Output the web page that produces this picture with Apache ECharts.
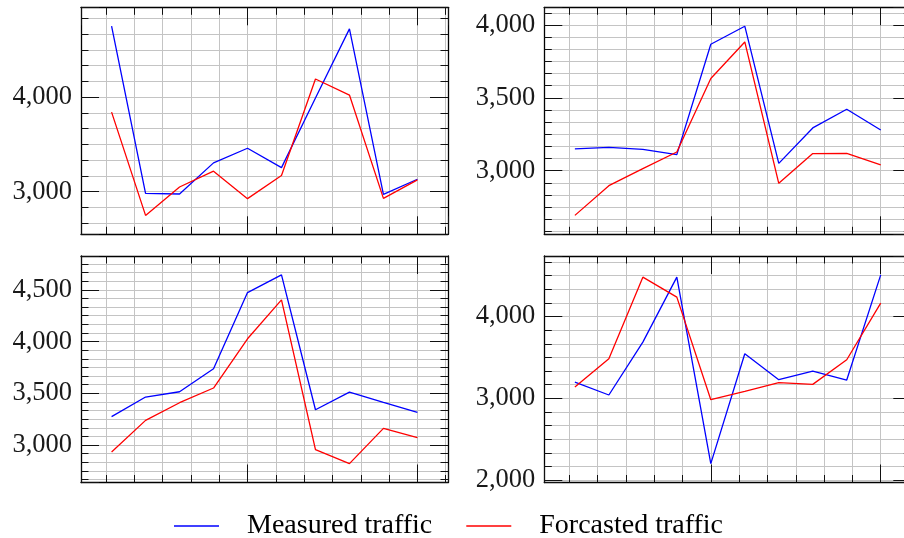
<!DOCTYPE html>
<html><head><meta charset="utf-8">
<script src="https://cdn.jsdelivr.net/npm/echarts@6/dist/echarts.min.js"></script>
<style>html,body{margin:0;padding:0;background:#fff;overflow:hidden;width:904px;height:538px}#c{width:920px;height:538px}</style>
</head><body><div id="c"></div>
<script>
// x positions (sample index)
const xValues = [1, 2, 3, 4, 5, 6, 7, 8, 9, 10];

// Panel 1 (top-left)
const measured1 = [4749, 2982, 2975, 3304, 3459, 3254, 3990, 4721, 2972, 3131];
const forecast1 = [3841, 2749, 3049, 3216, 2926, 3170, 4191, 4021, 2929, 3124];
// Panel 2 (top-right)
const measured2 = [3149, 3160, 3146, 3110, 3867, 3991, 3050, 3293, 3421, 3279];
const forecast2 = [2693, 2897, 3014, 3128, 3632, 3883, 2913, 3117, 3119, 3039];
// Panel 3 (bottom-left)
const measured3 = [3274, 3464, 3515, 3737, 4474, 4645, 3341, 3512, 3412, 3316];
const forecast3 = [2933, 3238, 3409, 3551, 4027, 4403, 2955, 2820, 3161, 3071];
// Panel 4 (bottom-right)
const measured4 = [3199, 3041, 3687, 4480, 2203, 3545, 3228, 3333, 3224, 4508];
const forecast4 = [3138, 3484, 4480, 4236, 2984, 3085, 3191, 3171, 3472, 4163];

// major tick steps on the y axes
const yTickSteps = [1000, 500, 500, 1000];
const xTickStep = 5;
const seriesNames = ['Measured traffic', 'Forcasted traffic'];

const panels = [
  [measured1, forecast1],
  [measured2, forecast2],
  [measured3, forecast3],
  [measured4, forecast4]
];

const FONT = 'Liberation Serif';
const gridBoxes = [
  {left: 81, top: 7.3, width: 367, height: 227},
  {left: 544.3, top: 7.3, width: 367, height: 227},
  {left: 81, top: 256, width: 367, height: 226.5},
  {left: 544.3, top: 256, width: 367, height: 226.5}
];

function enlarge(arr) {
  const lo = Math.min.apply(null, arr), hi = Math.max.apply(null, arr);
  const pad = 0.1 * (hi - lo);
  return [lo - pad, hi + pad];
}
const xExt = enlarge(xValues);

const tickLine = {color: '#111', width: 1};
const gridLine = {color: '#c4c4c4', width: 1};

function fmt(v) {
  return String(Math.round(v)).replace(/\B(?=(\d{3})+(?!\d))/g, ',');
}

const xAxes = [], yAxes = [], series = [];
panels.forEach((p, gi) => {
  const yExt = enlarge(p[0].concat(p[1]));
  const step = yTickSteps[gi];
  ['bottom', 'top'].forEach(pos => {
    xAxes.push({
      type: 'value', gridIndex: gi, position: pos,
      min: xExt[0], max: xExt[1],
      splitNumber: 2, minInterval: xTickStep, maxInterval: xTickStep,
      axisLine: {show: true, onZero: false, lineStyle: {color: '#000', width: 1.3}},
      axisTick: {show: true, inside: true, length: 18, lineStyle: tickLine},
      minorTick: {show: true, splitNumber: 6, length: 7.5, lineStyle: tickLine},
      axisLabel: {show: false},
      splitLine: {show: pos === 'bottom', lineStyle: gridLine},
      minorSplitLine: {show: pos === 'bottom', lineStyle: gridLine}
    });
  });
  ['left', 'right'].forEach(pos => {
    yAxes.push({
      type: 'value', gridIndex: gi, position: pos,
      min: yExt[0], max: yExt[1],
      splitNumber: 3, minInterval: step, maxInterval: step,
      axisLine: {show: true, onZero: false, lineStyle: {color: '#000', width: 1.3}},
      axisTick: {show: true, inside: true, length: 18, lineStyle: tickLine},
      minorTick: {show: true, splitNumber: 6, length: 7.5, lineStyle: tickLine},
      axisLabel: {
        show: pos === 'left', margin: 9,
        fontFamily: FONT, fontSize: 26.5, color: '#1a1a1a',
        formatter: v => (Math.abs(v / step - Math.round(v / step)) < 1e-6 ? fmt(v) : '')
      },
      splitLine: {show: pos === 'left', lineStyle: gridLine},
      minorSplitLine: {show: pos === 'left', lineStyle: gridLine}
    });
  });
  const colors = ['#0000ff', '#ff0000'];
  p.forEach((arr, si) => {
    series.push({
      type: 'line', name: seriesNames[si],
      xAxisIndex: gi * 2, yAxisIndex: gi * 2,
      symbol: 'none', z: 3 + si,
      color: colors[si],
      lineStyle: {color: colors[si], width: 1.3},
      data: xValues.map((x, i) => [x, arr[i]])
    });
  });
});

const chart = echarts.init(document.getElementById('c'), null, {renderer: 'canvas'});
chart.setOption({
  animation: false,
  backgroundColor: '#fff',
  grid: gridBoxes.map(g => Object.assign({containLabel: false}, g)),
  xAxis: xAxes,
  yAxis: yAxes,
  legend: {
    data: seriesNames.map(n => ({name: n, icon: 'rect'})),
    left: 174, top: 512, padding: 0,
    itemWidth: 45, itemHeight: 1.3, itemGap: 34,
    textStyle: {fontFamily: FONT, fontSize: 28, color: '#000', padding: [0, 0, 0, 23]}
  },
  series: series
});
</script>
</body></html>
